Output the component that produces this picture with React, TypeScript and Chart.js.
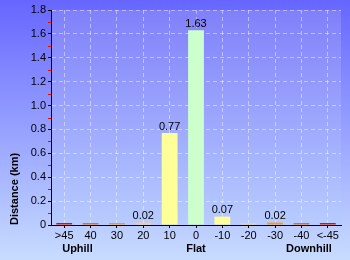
import React, { useEffect, useRef } from "react";
import { Chart, registerables } from "chart.js";

Chart.register(...registerables);

const categories = [">45", "40", "30", "20", "10", "0", "-10", "-20", "-30", "-40", "<-45"];
const distances = [0.01, 0.01, 0.01, 0.02, 0.77, 1.63, 0.07, 0.005, 0.02, 0.01, 0.01];
const barColors = ["#ff0000", "#ff6600", "#ff9900", "#ffcc88", "#ffff99", "#ccffcc", "#ffff99", "#ffcc88", "#ff9900", "#ff6600", "#ff0000"];
const yTicks = { min: 0, max: 1.8, step: 0.2 };
const groupLabels = ["Uphill", "Flat", "Downhill"];
const yTitle = "Distance (km)";

const FONT = "'Liberation Sans', Arial, sans-serif";

const bgPlugin = {
  id: "bgPlugin",
  beforeDraw(chart: any) {
    const { ctx, width, height, chartArea: a } = chart;
    ctx.save();
    const g = ctx.createLinearGradient(0, 0, 0, height);
    g.addColorStop(0, "#6666ff");
    g.addColorStop(1, "#c8dcff");
    ctx.fillStyle = g;
    ctx.fillRect(0, 0, width, height);
    const g2 = ctx.createLinearGradient(0, a.top, 0, a.bottom);
    g2.addColorStop(0, "#8080fa");
    g2.addColorStop(1, "#b8ccff");
    ctx.fillStyle = g2;
    ctx.fillRect(a.left, a.top, a.right - a.left, a.bottom - a.top);
    ctx.restore();
  },
  afterDraw(chart: any) {
    const { ctx, chartArea: a } = chart;
    const y = chart.scales.y;
    const x = chart.scales.x;
    ctx.save();
    // minor ticks
    ctx.strokeStyle = "#ff0000";
    ctx.lineWidth = 1;
    for (let v = yTicks.min + yTicks.step / 2; v < yTicks.max; v += yTicks.step) {
      const py = Math.round(y.getPixelForValue(v)) + 0.5;
      ctx.beginPath();
      ctx.moveTo(a.left - 3, py);
      ctx.lineTo(a.left, py);
      ctx.stroke();
    }
    // value labels
    ctx.fillStyle = "#000";
    ctx.font = `11px ${FONT}`;
    ctx.textAlign = "center";
    ctx.textBaseline = "bottom";
    const meta = chart.getDatasetMeta(0);
    distances.forEach((v, i) => {
      if (v < 0.015) return;
      const el = meta.data[i];
      ctx.fillText(v.toFixed(2), el.x, el.y - 1);
    });
    // group labels
    ctx.font = `bold 11px ${FONT}`;
    ctx.textBaseline = "middle";
    const gy = 249;
    ctx.textAlign = "left";
    ctx.fillText(groupLabels[0], x.getPixelForValue(0) - 2, gy);
    ctx.textAlign = "center";
    ctx.fillText(groupLabels[1], x.getPixelForValue(5), gy);
    ctx.textAlign = "right";
    ctx.fillText(groupLabels[2], x.getPixelForValue(10) + 4, gy);
    ctx.restore();
  },
};

export default function App() {
  const ref = useRef<HTMLCanvasElement>(null);
  useEffect(() => {
    const chart = new Chart(ref.current!, {
      type: "bar",
      data: {
        labels: categories,
        datasets: [
          {
            data: distances,
            backgroundColor: barColors,
            borderWidth: 0,
            barPercentage: 0.6,
            categoryPercentage: 1,
            minBarLength: 2,
          },
        ],
      },
      options: {
        animation: false,
        responsive: false,
        maintainAspectRatio: false,
        layout: { padding: { top: 10, right: 9, left: 0, bottom: 0 } },
        plugins: { legend: { display: false }, tooltip: { enabled: false } },
        scales: {
          x: {
            offset: true,
            grid: {
              offset: false,
              color: "rgba(255,255,255,0.45)",
              tickColor: "#000",
              tickLength: 3,
              tickBorderDash: [],
            } as any,
            border: { color: "#000", width: 1, dash: [4, 3] } as any,
            ticks: { color: "#000", font: { family: FONT, size: 11 }, padding: 1, autoSkip: false, maxRotation: 0 },
            afterFit(s: any) {
              s.height = 35;
            },
          },
          y: {
            min: yTicks.min,
            max: yTicks.max,
            ticks: { stepSize: yTicks.step, color: "#000", font: { family: FONT, size: 11 }, padding: 2 },
            grid: {
              color: "rgba(255,255,255,0.45)",
              tickColor: "#000",
              tickLength: 3,
              tickBorderDash: [],
            } as any,
            border: { color: "#000", width: 1, dash: [4, 3] } as any,
            title: {
              display: true,
              text: yTitle,
              align: "start",
              color: "#000",
              font: { family: FONT, size: 11, weight: "bold" },
              padding: { top: 8, bottom: 0 },
            },
            afterFit(s: any) {
              s.width = 51;
            },
          },
        },
      },
      plugins: [bgPlugin],
    });
    return () => chart.destroy();
  }, []);
  return (
    <div style={{ position: "absolute", left: 0, top: 0, width: 350, height: 260 }}>
      <canvas ref={ref} width={350} height={260} style={{ display: "block" }} />
    </div>
  );
}
